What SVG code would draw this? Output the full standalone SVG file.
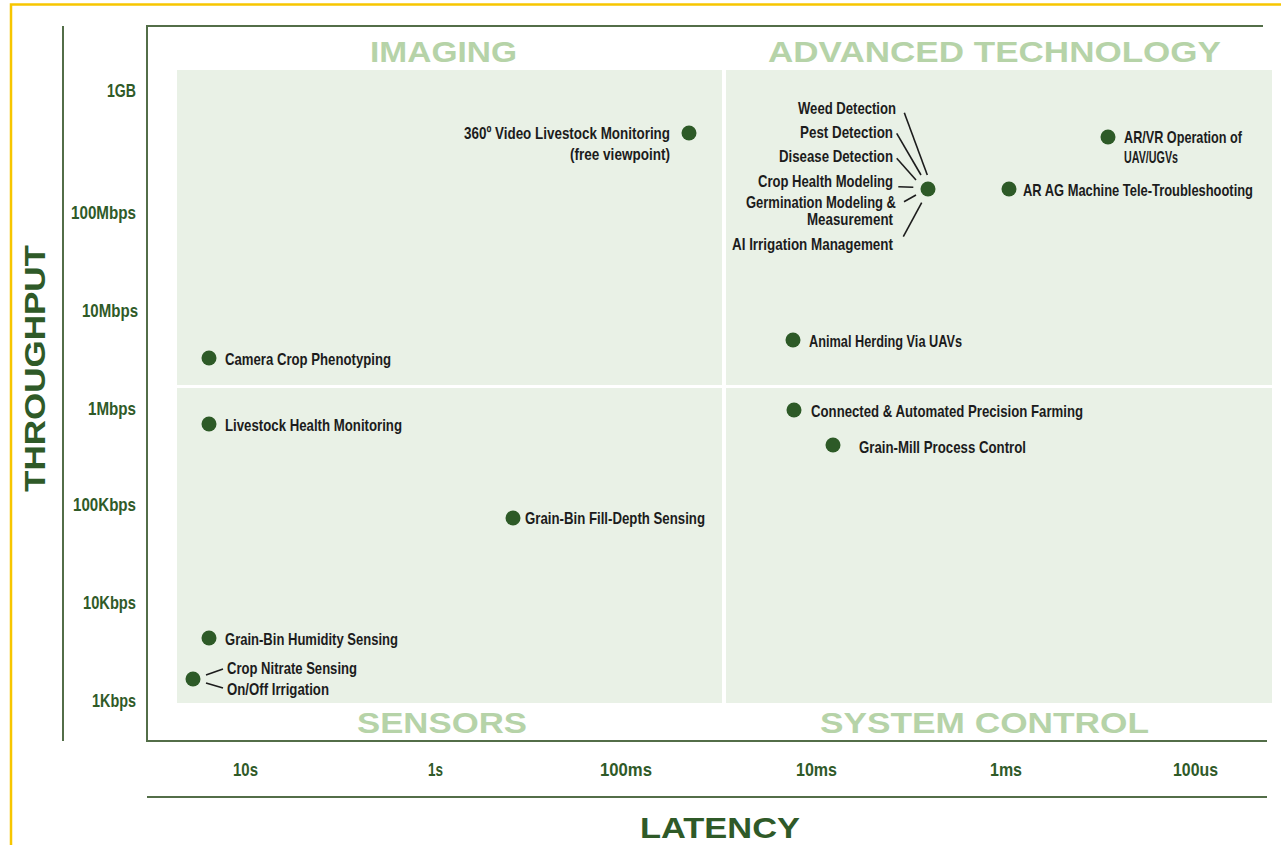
<svg xmlns="http://www.w3.org/2000/svg" width="1281" height="845" viewBox="0 0 1281 845">
<style>
.frame{stroke:#536e48;stroke-width:2;fill:none}
.yellow{stroke:#f7c600;stroke-width:2.5;fill:none}
.panel{fill:#e9f1e6}
.quad{font-family:"Liberation Sans",Arial,sans-serif;font-weight:bold;font-size:30px;fill:#b6d3a8}
.axis{font-family:"Liberation Sans",Arial,sans-serif;font-weight:bold;font-size:30px;fill:#2f5a28}
.tick{font-family:"Liberation Sans",Arial,sans-serif;font-weight:bold;font-size:19px;fill:#2f5a28}
.lbl{font-family:"Liberation Sans",Arial,sans-serif;font-weight:bold;font-size:17px;fill:#1c1c1c}
.dot{fill:#2d5a27}
.lead{stroke:#1c1c1c;stroke-width:1.6;fill:none}
.end{text-anchor:end}
.mid{text-anchor:middle}
</style>
<rect width="1281" height="845" fill="#ffffff"/>
<g id="border">
<path class="yellow" d="M11 845 V4.5 H1281"/>
</g>
<g id="panels">
<rect class="panel" x="177" y="70" width="545" height="315"/>
<rect class="panel" x="726" y="70" width="546" height="315"/>
<rect class="panel" x="177" y="388" width="545" height="315"/>
<rect class="panel" x="726" y="388" width="546" height="315"/>
</g>
<g id="axes">
<path class="frame" d="M63 26 V741"/>
<path class="frame" d="M1263 26 H147 V741 H1267"/>
<path class="frame" d="M147 797 H1267"/>
</g>
<g id="quadrant-titles">
<text class="quad" x="370" y="62" textLength="147" lengthAdjust="spacingAndGlyphs">IMAGING</text>
<text class="quad" x="768" y="62" textLength="453" lengthAdjust="spacingAndGlyphs">ADVANCED TECHNOLOGY</text>
<text class="quad" x="357" y="733" textLength="170" lengthAdjust="spacingAndGlyphs">SENSORS</text>
<text class="quad" x="820" y="733" textLength="329" lengthAdjust="spacingAndGlyphs">SYSTEM CONTROL</text>
</g>
<g id="axis-titles">
<text class="axis" transform="translate(45,492) rotate(-90)" textLength="247" lengthAdjust="spacingAndGlyphs">THROUGHPUT</text>
<text class="axis" x="640" y="838" textLength="160" lengthAdjust="spacingAndGlyphs">LATENCY</text>
</g>
<g id="y-ticks">
<text class="tick" x="107" y="97" textLength="29" lengthAdjust="spacingAndGlyphs">1GB</text>
<text class="tick" x="71" y="219" textLength="65" lengthAdjust="spacingAndGlyphs">100Mbps</text>
<text class="tick" x="82" y="317" textLength="56" lengthAdjust="spacingAndGlyphs">10Mbps</text>
<text class="tick" x="88" y="415" textLength="48" lengthAdjust="spacingAndGlyphs">1Mbps</text>
<text class="tick" x="73" y="511" textLength="63" lengthAdjust="spacingAndGlyphs">100Kbps</text>
<text class="tick" x="83" y="609" textLength="53" lengthAdjust="spacingAndGlyphs">10Kbps</text>
<text class="tick" x="92" y="707" textLength="44" lengthAdjust="spacingAndGlyphs">1Kbps</text>
</g>
<g id="x-ticks">
<text class="tick" x="233" y="776" textLength="25" lengthAdjust="spacingAndGlyphs">10s</text>
<text class="tick" x="428" y="776" textLength="15" lengthAdjust="spacingAndGlyphs">1s</text>
<text class="tick" x="600" y="776" textLength="52" lengthAdjust="spacingAndGlyphs">100ms</text>
<text class="tick" x="796" y="776" textLength="41" lengthAdjust="spacingAndGlyphs">10ms</text>
<text class="tick" x="990" y="776" textLength="32" lengthAdjust="spacingAndGlyphs">1ms</text>
<text class="tick" x="1173" y="776" textLength="45" lengthAdjust="spacingAndGlyphs">100us</text>
</g>
<g id="connectors">
<path class="lead" d="M904.3 112.7 L927.3 175"/>
<path class="lead" d="M896.7 133.3 L921 175"/>
<path class="lead" d="M896.7 158.3 L916 180"/>
<path class="lead" d="M898.3 186.7 L913.3 187.3"/>
<path class="lead" d="M904 201.7 L916 195"/>
<path class="lead" d="M903.3 236.7 L921.7 202.7"/>
<path class="lead" d="M206 675 L223 669"/>
<path class="lead" d="M206 683 L223 688"/>
</g>
<g id="node-video">
<circle class="dot" cx="689" cy="133" r="7.5"/>
<text class="lbl" x="464" y="139" textLength="206" lengthAdjust="spacingAndGlyphs">360º  Video Livestock Monitoring</text>
<text class="lbl" x="570" y="160" textLength="100" lengthAdjust="spacingAndGlyphs">(free viewpoint)</text>
</g>
<g id="node-cluster">
<circle class="dot" cx="928" cy="189" r="7.5"/>
<text class="lbl" x="798" y="114" textLength="98" lengthAdjust="spacingAndGlyphs">Weed Detection</text>
<text class="lbl" x="800" y="138" textLength="93" lengthAdjust="spacingAndGlyphs">Pest Detection</text>
<text class="lbl" x="779" y="162" textLength="114" lengthAdjust="spacingAndGlyphs">Disease Detection</text>
<text class="lbl" x="758" y="187" textLength="135" lengthAdjust="spacingAndGlyphs">Crop Health Modeling</text>
<text class="lbl" x="746" y="208" textLength="150" lengthAdjust="spacingAndGlyphs">Germination Modeling &amp;</text>
<text class="lbl" x="807" y="225" textLength="86" lengthAdjust="spacingAndGlyphs">Measurement</text>
<text class="lbl" x="732" y="250" textLength="161" lengthAdjust="spacingAndGlyphs">AI Irrigation Management</text>
</g>
<g id="node-arvr">
<circle class="dot" cx="1108" cy="137" r="7.5"/>
<text class="lbl" x="1124" y="143" textLength="118" lengthAdjust="spacingAndGlyphs">AR/VR Operation of</text>
<text class="lbl" x="1124" y="163" textLength="54" lengthAdjust="spacingAndGlyphs">UAV/UGVs</text>
</g>
<g id="node-arag">
<circle class="dot" cx="1009" cy="189" r="7.5"/>
<text class="lbl" x="1023" y="196" textLength="230" lengthAdjust="spacingAndGlyphs">AR AG Machine Tele-Troubleshooting</text>
</g>
<g id="node-herding">
<circle class="dot" cx="793" cy="340" r="7.5"/>
<text class="lbl" x="809" y="347" textLength="153" lengthAdjust="spacingAndGlyphs">Animal Herding Via UAVs</text>
</g>
<g id="node-camera">
<circle class="dot" cx="209" cy="358" r="7.5"/>
<text class="lbl" x="225" y="365" textLength="166" lengthAdjust="spacingAndGlyphs">Camera Crop Phenotyping</text>
</g>
<g id="node-livestock">
<circle class="dot" cx="209" cy="424" r="7.5"/>
<text class="lbl" x="225" y="431" textLength="177" lengthAdjust="spacingAndGlyphs">Livestock Health Monitoring</text>
</g>
<g id="node-connected">
<circle class="dot" cx="794" cy="410" r="7.5"/>
<text class="lbl" x="811" y="417" textLength="272" lengthAdjust="spacingAndGlyphs">Connected &amp; Automated Precision Farming</text>
</g>
<g id="node-grainmill">
<circle class="dot" cx="833" cy="445" r="7.5"/>
<text class="lbl" x="859" y="453" textLength="167" lengthAdjust="spacingAndGlyphs">Grain-Mill Process Control</text>
</g>
<g id="node-filldepth">
<circle class="dot" cx="513" cy="518" r="7.5"/>
<text class="lbl" x="525" y="524" textLength="180" lengthAdjust="spacingAndGlyphs">Grain-Bin Fill-Depth Sensing</text>
</g>
<g id="node-humidity">
<circle class="dot" cx="209" cy="638" r="7.5"/>
<text class="lbl" x="225" y="645" textLength="173" lengthAdjust="spacingAndGlyphs">Grain-Bin Humidity Sensing</text>
</g>
<g id="node-nitrate">
<circle class="dot" cx="193" cy="679" r="7.5"/>
<text class="lbl" x="227" y="674" textLength="130" lengthAdjust="spacingAndGlyphs">Crop Nitrate Sensing</text>
<text class="lbl" x="227" y="695" textLength="102" lengthAdjust="spacingAndGlyphs">On/Off Irrigation</text>
</g>
</svg>
